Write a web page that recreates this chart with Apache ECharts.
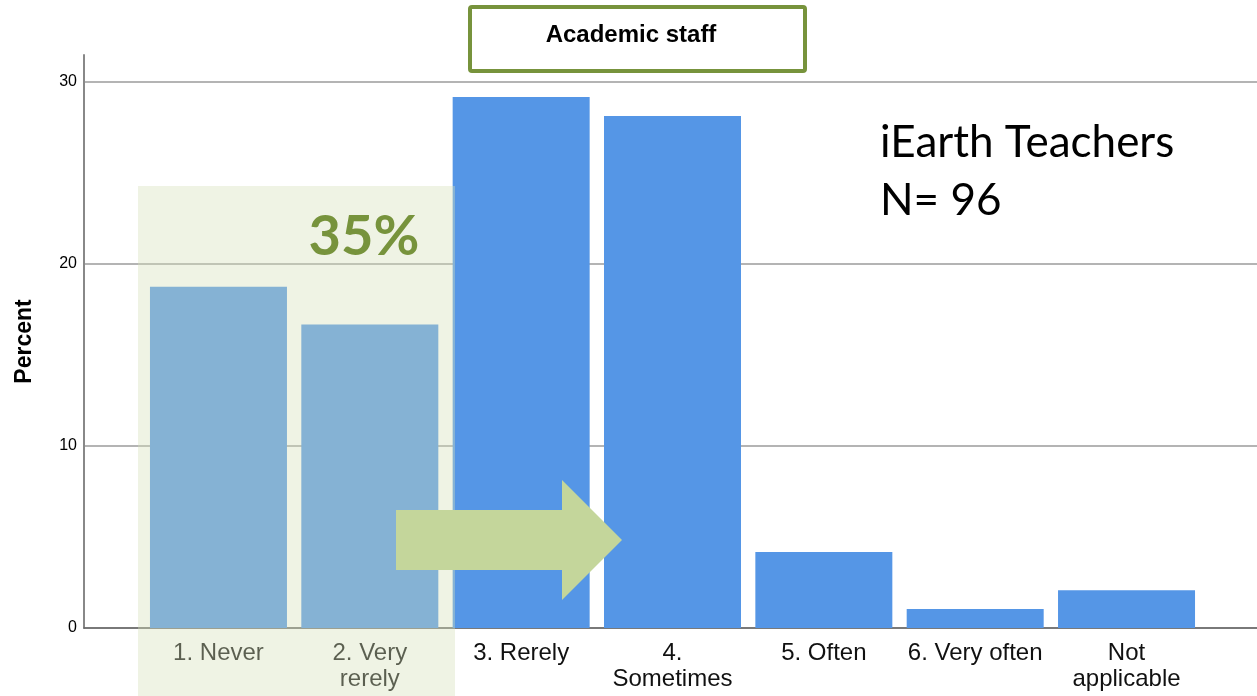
<!DOCTYPE html>
<html>
<head>
<meta charset="utf-8">
<script src="https://cdn.jsdelivr.net/npm/echarts@6/dist/echarts.min.js"></script>
<style>html,body{margin:0;padding:0;background:#fff}#c{width:1257px;height:696px}</style>
</head>
<body>
<div id="c"></div>
<script>
const categories = ['1. Never', '2. Very\nrerely', '3. Rerely', '4.\nSometimes', '5. Often', '6. Very often', 'Not\napplicable'];
const percentValues = [18.75, 16.67, 29.17, 28.13, 4.17, 1.04, 2.08];
const yTicks = [0, 10, 20, 30];

const chart = echarts.init(document.getElementById('c'), null, {renderer: 'canvas'});
const FONT = 'Liberation Sans, Arial, sans-serif';
const option = {
  animation: false,
  backgroundColor: '#ffffff',
  grid: [
    {left: 84, right: 0, top: 82, bottom: 68},
    {left: 84, right: 0, top: 55, bottom: 68},
    {left: 142.8, right: 54.8, top: 82, bottom: 68}
  ],
  xAxis: [
    {type: 'value', gridIndex: 0, min: 0, max: 1, show: true,
     axisLine: {show: true, onZero: false, lineStyle: {color: '#666666', width: 1.5}},
     axisTick: {show: false}, axisLabel: {show: false}, splitLine: {show: false}},
    {type: 'value', gridIndex: 1, min: 0, max: 1, show: false},
    {type: 'category', gridIndex: 2, data: categories, boundaryGap: true,
     axisLine: {show: false}, axisTick: {show: false},
     axisLabel: {interval: 0, fontFamily: FONT, fontSize: 24, lineHeight: 26, color: '#111111', margin: 12}}
  ],
  yAxis: [
    {type: 'value', gridIndex: 0, min: yTicks[0], max: yTicks[yTicks.length - 1], interval: 10,
     axisLine: {show: false}, axisTick: {show: false},
     axisLabel: {fontFamily: FONT, fontSize: 16, color: '#000000', margin: 7},
     splitLine: {show: true, lineStyle: {color: '#b4b4b4', width: 2}}},
    {type: 'value', gridIndex: 1, min: 0, max: 31.5,
     axisLine: {show: true, lineStyle: {color: '#888888', width: 2}}, axisTick: {show: false},
     axisLabel: {show: false}, splitLine: {show: false},
     name: 'Percent', nameLocation: 'middle', nameGap: 48,
     nameTextStyle: {fontFamily: FONT, fontSize: 23, fontWeight: 'bold', color: '#000000'}},
    {type: 'value', gridIndex: 2, min: 0, max: 30, show: false}
  ],
  series: [{
    type: 'bar', xAxisIndex: 2, yAxisIndex: 2, data: percentValues, barWidth: 137,
    itemStyle: {color: '#5596e6'}, z: 3
  }],
  graphic: [
    {type: 'rect', z: 100, shape: {x: 138, y: 186, width: 317, height: 510},
     style: {fill: 'rgba(213,223,184,0.38)'}},
    {type: 'polygon', z: 110,
     shape: {points: [[396, 510], [562, 510], [562, 480], [622, 540], [562, 600], [562, 570], [396, 570]]},
     style: {fill: '#c4d69b'}},
    {type: 'text', z: 110, x: 364, y: 237,
     style: {text: '35%', fill: '#77933c', font: 'bold 56px Lato, "Open Sans", sans-serif', textAlign: 'center', textVerticalAlign: 'middle'}},
    {type: 'rect', z: 110, shape: {x: 470, y: 7, width: 335, height: 64, r: 2},
     style: {fill: '#ffffff', stroke: '#77933c', lineWidth: 4}},
    {type: 'text', z: 111, x: 631, y: 35,
     style: {text: 'Academic staff', fill: '#000000', font: 'bold 24px "Liberation Sans", Arial, sans-serif', textAlign: 'center', textVerticalAlign: 'middle'}},
    {type: 'text', z: 110, x: 880, y: 143,
     style: {text: 'iEarth Teachers', fill: '#000000', font: '44px Lato, "Open Sans", sans-serif', textAlign: 'left', textVerticalAlign: 'middle'}},
    {type: 'text', z: 110, x: 880, y: 201,
     style: {text: 'N= 96', fill: '#000000', font: '44px Lato, "Open Sans", sans-serif', textAlign: 'left', textVerticalAlign: 'middle'}}
  ]
};
chart.setOption(option);
</script>
</body>
</html>
